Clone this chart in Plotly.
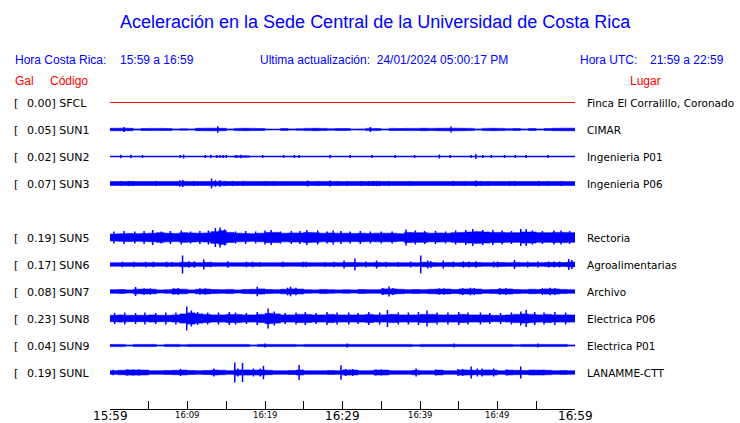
import plotly.graph_objects as go

# ---------------- data ----------------
minutes = list(range(61))  # 15:59 .. 16:59, one sample per minute
tick_minutes = [0, 5, 10, 15, 20, 25, 30, 35, 40, 45, 50, 55, 60]
tick_labels = {0: "15:59", 10: "16:09", 20: "16:19", 30: "16:29", 40: "16:39", 50: "16:49", 60: "16:59"}
big_ticks = [0, 30, 60]

codes = ["SFCL", "SUN1", "SUN2", "SUN3", "SUN5", "SUN6", "SUN7", "SUN8", "SUN9", "SUNL"]
rows = [0, 1, 2, 3, 5, 6, 7, 8, 9, 10]
gal = ["0.00", "0.05", "0.02", "0.07", "0.19", "0.17", "0.08", "0.23", "0.04", "0.19"]
places = ["Finca El Corralillo, Coronado", "CIMAR", "Ingenieria P01", "Ingenieria P06",
          "Rectoria", "Agroalimentarias", "Archivo", "Electrica P06", "Electrica P01", "LANAMME-CTT"]

# envelope half-amplitudes (relative units) per minute
env_SFCL = [0.0] * 61
env_SUN1 = [1.2,1.3,1.2,0.6,1.0,1.1,1.1,1.0,0.6,0.8,0.6,1.2,1.3,1.3,1.2,0.6,1.1,1.2,1.1,1.0,0.5,0.4,0.9,0.6,0.8,1.1,1.2,1.1,0.7,1.0,
            1.0,0.5,0.6,1.1,0.9,0.5,1.1,1.0,1.1,1.1,1.2,1.1,1.2,1.3,1.3,1.2,1.1,0.6,1.1,1.2,1.1,0.8,1.0,0.6,1.0,0.6,0.9,1.2,1.3,1.3,1.3]
env_SUN2 = [0.4,0.4,0.4,0.4,0.4,0.4,0.4,0.4,0.4,0.4,0.4,0.4,0.4,0.4,0.4,0.4,0.7,0.7,0.4,0.4,0.4,0.4,0.4,0.4,0.4,0.4,0.4,0.4,0.4,0.4,
            0.4,0.4,0.4,0.4,0.4,0.4,0.4,0.4,0.4,0.4,0.4,0.4,0.4,0.4,0.4,0.4,0.4,0.4,0.4,0.4,0.4,0.4,0.4,0.4,0.4,0.4,0.4,0.4,0.4,0.4,0.4]
env_SUN3 = [1.9,1.9,2.0,1.9,1.9,1.9,1.9,1.9,1.9,2.1,1.9,1.9,1.9,2.1,2.1,1.9,1.9,1.9,1.9,1.9,1.9,1.9,1.9,1.9,1.9,1.9,1.9,1.9,1.9,1.9,
            1.9,1.9,2.0,2.0,2.0,1.9,1.9,1.9,1.9,1.9,1.9,1.9,1.9,1.9,1.9,1.9,1.9,2.0,1.9,1.9,1.9,1.9,1.9,1.9,1.9,1.9,1.9,1.9,1.9,1.9,1.9]
env_SUN5 = [3.4,3.8,4.1,3.8,4.1,4.3,4.8,4.3,4.1,4.8,4.5,4.3,4.5,5.8,6.8,5.1,4.3,4.1,3.8,4.3,5.1,5.1,4.3,4.5,4.5,5.1,4.8,4.3,4.5,4.3,
            4.3,4.1,4.3,4.1,4.3,4.3,4.3,3.8,5.1,4.8,4.8,4.3,4.5,4.3,4.8,5.1,5.5,5.8,5.5,5.1,5.1,4.8,4.8,5.5,5.5,4.8,4.8,5.1,5.1,4.8,4.8]
env_SUN6 = [1.7,1.7,1.8,1.7,1.8,1.8,1.7,1.8,1.7,2.2,1.9,1.8,2.0,1.8,1.7,1.8,1.7,1.8,1.8,1.7,1.7,1.7,1.8,1.7,1.8,1.8,1.7,1.7,1.8,1.8,
            1.9,2.0,1.8,1.8,1.9,1.8,1.7,1.7,1.8,1.8,2.2,1.9,1.8,1.9,1.8,1.9,1.9,1.9,1.8,1.8,1.9,1.8,1.9,1.8,1.8,1.8,1.9,1.9,1.9,2.4,2.0]
env_SUN7 = [1.8,2.0,1.6,2.3,2.4,2.3,1.6,1.8,2.4,2.3,1.6,2.2,2.4,2.0,1.8,2.1,1.6,2.0,2.2,2.6,2.0,1.8,2.2,2.6,2.4,1.8,1.6,2.1,1.8,1.6,
            1.8,1.6,2.0,1.8,1.8,2.6,2.6,2.2,1.8,2.0,1.8,2.2,2.4,2.4,2.0,2.5,2.6,2.4,1.8,2.0,2.4,2.5,2.0,1.8,2.2,2.0,2.6,2.5,2.1,1.8,2.0]
env_SUN8 = [3.2,3.6,3.2,3.2,3.2,3.6,3.2,3.2,3.6,4.6,5.6,4.6,4.1,3.6,3.6,4.1,4.1,3.6,3.6,4.1,5.1,4.6,3.6,3.6,4.1,4.1,3.6,3.6,4.1,3.6,
            3.6,3.6,3.6,4.1,3.6,3.6,4.1,3.6,3.6,3.6,4.1,4.1,3.6,3.6,3.6,4.1,3.6,3.6,3.6,3.2,3.2,3.6,4.1,4.6,4.1,3.6,4.1,3.6,3.6,3.6,3.6]
env_SUN9 = [1.1,1.1,0.6,1.1,1.1,1.1,0.6,1.1,1.1,0.7,1.1,1.1,1.1,1.1,1.1,1.1,1.1,1.1,0.6,1.1,1.1,1.1,1.1,1.1,0.7,1.1,1.1,1.1,1.1,1.1,
            1.1,1.1,1.1,1.1,1.1,1.1,1.1,1.1,1.1,0.7,1.1,1.1,1.1,1.1,1.1,1.1,1.1,1.1,1.1,1.1,1.1,1.1,0.7,1.1,1.1,1.1,1.1,1.1,1.1,0.6,1.1]
env_SUNL = [1.8,2.2,2.6,2.6,2.4,1.8,1.8,2.0,2.2,2.4,2.0,1.8,2.0,2.4,2.2,1.8,2.6,2.6,2.4,2.6,2.2,1.8,1.8,2.0,2.4,1.8,1.8,1.8,2.0,1.8,
            2.6,2.4,1.8,1.8,2.4,2.4,1.8,1.8,1.8,2.2,1.8,1.8,2.4,1.8,1.8,2.6,2.4,2.2,2.6,2.4,1.8,2.4,2.2,2.0,2.4,2.4,2.2,1.8,2.0,1.8,1.8]

# isolated peaks: (minute, half-amplitude)
spk_SFCL = []
spk_SUN1 = [(1.8,2.5),(13.9,3.3),(33.6,2.5),(44.0,3.0)]
spk_SUN2 = [(1.4,1.8),(2.7,1.8),(4.2,1.5),(9.05,1.5),(9.5,2),(12.3,1.5),(13.0,1.8),(13.8,1.5),(14.2,1.5),(14.6,1.5),(15.0,1.5),
            (16.3,1.5),(16.9,1.8),(19.7,1.5),(22.4,1.5),(23.8,1.5),(24.4,1.5),(28.4,1.8),(31.0,1.5),(33.8,1.5),(36.8,1.5),(39.3,1.5),
            (42.5,2),(43.9,1.5),(46.6,1.5),(47.2,2.5),(48.1,1.5),(49.2,1.5),(50.9,1.5),(52.3,1.5),(53.7,1.5),(56.5,1.5)]
spk_SUN3 = [(1.4,2.6),(2.5,2.6),(3.0,2.6),(5.9,2.6),(9.0,3.2),(9.4,3.6),(10.8,2.6),(13.1,5),(13.6,3.2),(14.2,3.2),(14.9,2.6),
            (15.8,2.6),(17.2,2.6),(20.1,2.6),(21.1,2.4),(25.5,3),(26.9,2.6),(28.4,3),(29.4,2.6),(30.6,2.4),(32.4,2.6),(33.4,2.6),
            (33.9,2.6),(34.4,2.6),(34.8,2.6),(36.0,2.6),(38.7,2.6),(44.3,2.6),(45.7,2.6),(47.2,3),(47.9,2.6),(48.8,2.6),(51.6,2.6),
            (52.2,2.6),(55.3,2.6),(56.5,2.6),(58.2,2.6)]
spk_SUN5 = [(0.5,6),(1.8,6.5),(3.2,6),(4.4,6.5),(5.5,7.5),(6.6,6),(7.8,6.5),(9.2,7),(10.4,6),(11.6,6.5),(12.7,7),(13.6,9.5),
            (14.2,10),(14.8,8),(16.2,6),(17.5,6.5),(18.8,6),(20.0,7),(20.8,7.5),(22.0,6),(23.4,6.5),(24.5,6.5),(25.4,7.5),(26.8,7),
            (28.0,6),(28.8,7),(29.8,6.5),(31.0,6),(32.3,6.5),(33.6,6),(35.0,6),(36.4,6),(38.2,8),(39.4,7),(40.6,6.5),(42.0,6.5),
            (43.3,6),(44.6,7),(45.9,7.5),(46.8,8.5),(48.1,7.5),(49.4,7.5),(50.6,7),(51.8,6.5),(53.0,8.5),(53.7,8.5),(54.5,7),
            (55.8,6.5),(57.3,7),(58.2,7),(59.3,6.5)]
spk_SUN6 = [(1.6,2.8),(3.1,2.8),(4.6,2.8),(5.6,2.8),(7.3,2.8),(8.0,2.5),(9.36,9),(10.2,3.2),(10.9,3.2),(12.1,5),(13.0,2.8),
            (15.2,3.2),(17.6,2.8),(18.4,2.8),(19.3,2.5),(22.3,2.8),(24.9,2.8),(25.3,2.8),(27.7,2.5),(28.9,2.8),(30.2,4),(31.6,6),
            (33.0,3),(34.4,4),(35.6,2.8),(37.2,2.5),(38.8,3),(40.1,9),(41.0,4),(41.4,3.5),(43.0,4),(44.3,3),(45.6,3.2),(46.3,3),
            (47.2,3.2),(49.5,3),(50.0,3),(52.2,4.5),(53.9,3),(55.2,3),(56.6,3),(57.3,3),(58.0,3),(59.2,5.5),(59.6,4.5)]
spk_SUN7 = [(3.3,4.5),(4.4,3.2),(5.2,3.2),(8.2,3.2),(8.8,3.5),(11.6,3.2),(12.3,3.2),(19.0,4.8),(22.9,3.8),(23.3,4.8),(24.0,3.8),
            (35.2,3.5),(36.0,5),(36.5,3.5),(42.5,3.2),(43.1,3.2),(45.5,3.5),(46.5,3.8),(47.0,3.5),(50.3,3.2),(51.1,3.5),(55.8,3.5),
            (56.8,3.8),(57.4,3.5)]
spk_SUN8 = [(0.6,5.5),(1.9,6),(3.3,5.5),(4.5,6),(5.9,5.5),(7.2,6),(8.5,6),(9.9,12),(10.5,8),(11.3,6.5),(12.6,6),(14.0,6),
            (15.4,6.5),(16.2,6),(17.6,5.5),(19.0,6.5),(20.4,10),(21.2,7),(22.6,5.5),(24.0,6),(25.2,6.5),(26.6,5.5),(28.0,6.5),(29.3,6),
            (30.8,6),(32.0,5.5),(33.4,6.5),(34.8,6),(35.8,8.5),(37.2,6),(38.5,6),(39.8,6.5),(40.9,8),(42.2,6),(43.6,6),
            (45.0,6.5),(46.2,6),(47.8,6),(49.0,5.5),(50.4,5.5),(51.8,6),(53.0,7),(53.7,8.5),(54.8,6.5),(56.0,6),(57.4,6.5),(58.8,6)]
spk_SUN9 = [(20.0,2),(30.6,2),(44.4,2),(55.2,2)]
spk_SUNL = [(0.4,2.8),(2.2,3),(3.0,3),(3.7,3),(9.1,3.5),(13.4,4),(16.1,10),(16.5,4),(17.1,9.5),(18.5,4),(19.4,4),(19.8,6.7),
            (24.4,7.5),(29.8,7.3),(30.4,3.5),(31.3,3.5),(34.3,3),(35.0,3),(39.5,4),(42.0,3),(44.9,3.5),(45.5,3.5),(46.6,6),
            (47.4,4),(48.0,4),(49.5,4),(51.2,3),(53.0,6),(54.6,2.8),(56.0,2.8)]

envs = [env_SFCL, env_SUN1, env_SUN2, env_SUN3, env_SUN5, env_SUN6, env_SUN7, env_SUN8, env_SUN9, env_SUNL]
spikes = [spk_SFCL, spk_SUN1, spk_SUN2, spk_SUN3, spk_SUN5, spk_SUN6, spk_SUN7, spk_SUN8, spk_SUN9, spk_SUNL]

# ---------------- layout helpers ----------------
W, H = 740, 423
L, R, T, B = 110, 575, 90, 409
UNIT = 1.0 / 27.0  # amplitude units -> row spacing
SHIFT = 0.5 / 27.0  # half-pixel so 1px lines are crisp
BLUE = "#0000ff"
RED = "#ff0000"
PAD = 2.5  # annotation inner padding in px

def paper(x, y):
    return (x - L) / (R - L), (B - y) / (B - T)

fig = go.Figure()

for code, row, env, spk in zip(codes, rows, envs, spikes):
    yc = -row
    if code == "SFCL":
        fig.add_trace(go.Scatter(x=[minutes[0], minutes[-1]], y=[yc, yc], mode="lines",
                                 line=dict(color=RED, width=1), hoverinfo="skip"))
        continue
    up = [yc + e * UNIT for e in env]
    dn = [yc - e * UNIT for e in env]
    fig.add_trace(go.Scatter(x=minutes, y=up, mode="lines", line=dict(color=BLUE, width=0.6, shape="hv"),
                             hoverinfo="skip"))
    fig.add_trace(go.Scatter(x=minutes, y=dn, mode="lines", line=dict(color=BLUE, width=0.6, shape="hv"),
                             fill="tonexty", fillcolor=BLUE, hoverinfo="skip"))
    xs, ys = [], []
    for t, a in spk:
        xs += [t, t, None]
        ys += [yc + a * UNIT, yc - a * UNIT, None]
    if xs:
        fig.add_trace(go.Scatter(x=xs, y=ys, mode="lines", line=dict(color=BLUE, width=1.5),
                                 hoverinfo="skip", connectgaps=False))

ann = []
def text(x, y, s, size, color, family, anchor="left"):
    if anchor == "left":
        x -= PAD
    px, py = paper(x, y)
    ann.append(dict(x=px, y=py, xref="paper", yref="paper", text=s, showarrow=False,
                    xanchor=anchor, yanchor="middle",
                    font=dict(size=size, color=color, family=family)))

SANS = "Liberation Sans, Arial, sans-serif"
DJV = "DejaVu Sans, sans-serif"

text(375, 22, "Aceleración en la Sede Central de la Universidad de Costa Rica", 18, BLUE, SANS, "center")
text(15, 60, "Hora Costa Rica:", 12, BLUE, SANS)
text(120.5, 60, "15:59 a 16:59", 12, BLUE, SANS)
text(260, 60, "Ultima actualización:  24/01/2024 05:00:17 PM", 12, BLUE, SANS)
text(580.5, 60, "Hora UTC:", 12, BLUE, SANS)
text(650.5, 60, "21:59 a 22:59", 12, BLUE, SANS)
text(15, 80.5, "Gal", 12, RED, SANS)
text(50, 80.5, "Código", 12, RED, SANS)
text(630.5, 80.5, "Lugar", 12, RED, SANS)

for code, row, g, place in zip(codes, rows, gal, places):
    y = 103 + 27 * row
    text(14, y, "[", 11, "black", DJV)
    text(27.5, y, f"{g}] {code}", 11, "black", DJV)
    text(587, y, place, 10.5, "black", DJV)

for m, lab in tick_labels.items():
    big = m in big_ticks
    ann.append(dict(x=m, y=paper(0, 415.5 if big else 415)[1], xref="x", yref="paper", text=lab,
                    showarrow=False, xanchor="center", yanchor="middle", borderpad=0,
                    font=dict(size=12 if big else 8.5, color="black", family=DJV)))

fig.update_layout(
    width=W, height=H, showlegend=False,
    margin=dict(l=L, r=W - R, t=T, b=H - B, pad=0),
    paper_bgcolor="white", plot_bgcolor="white",
    annotations=ann,
    xaxis=dict(range=[minutes[0], minutes[-1]], tickvals=tick_minutes, ticks="inside", ticklen=8,
               tickcolor="black", tickwidth=1, showticklabels=False, showgrid=False, zeroline=False,
               showline=True, linecolor="black", linewidth=1, fixedrange=True),
    yaxis=dict(range=[-11.333 - SHIFT, 0.481 - SHIFT], showgrid=False, zeroline=False, showticklabels=False,
               showline=False, ticks="", fixedrange=True),
)

fig.write_html("out.html", config={"displayModeBar": False},
               post_script="document.body.style.margin='0';document.body.style.overflow='hidden';")
